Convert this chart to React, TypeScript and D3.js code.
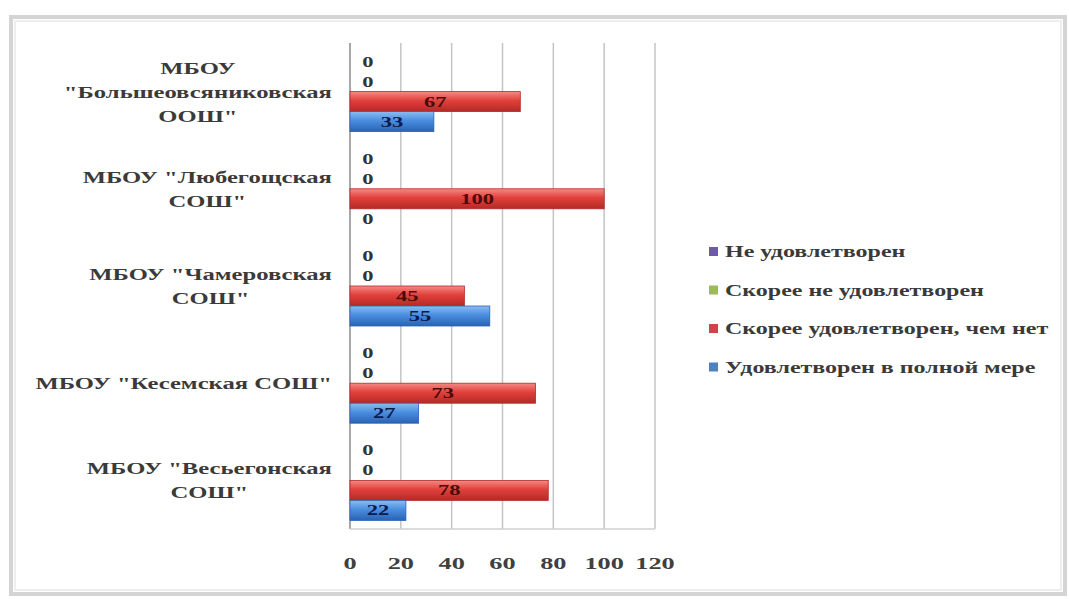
import React, { useEffect, useRef } from "react";
import * as d3 from "d3";

const categories: string[][] = [
  ["МБОУ", "\"Большеовсяниковская", "ООШ\""],
  ["МБОУ \"Любегощская", "СОШ\""],
  ["МБОУ \"Чамеровская", "СОШ\""],
  ["МБОУ \"Кесемская СОШ\""],
  ["МБОУ \"Весьегонская", "СОШ\""],
];

const seriesNames = [
  "Не удовлетворен",
  "Скорее не удовлетворен",
  "Скорее удовлетворен, чем нет",
  "Удовлетворен в полной мере",
];

const notSatisfied = [0, 0, 0, 0, 0];
const ratherNot = [0, 0, 0, 0, 0];
const ratherSatisfied = [67, 100, 45, 73, 78];
const fullySatisfied = [33, 0, 55, 27, 22];

const seriesValues = [notSatisfied, ratherNot, ratherSatisfied, fullySatisfied];
const xTicks = [0, 20, 40, 60, 80, 100, 120];

const seriesColors = [
  { top: "#a08ad0", mid: "#7358b0", bot: "#4e3a86", legend: "#6f5aa8", label: "#1a1030" },
  { top: "#c8dc8a", mid: "#9bbb59", bot: "#6f8a34", legend: "#9bbb59", label: "#1a2a08" },
  { top: "#f48a84", mid: "#e2403a", bot: "#b32a26", legend: "#d0434a", label: "#4a0c0c" },
  { top: "#8cbcf2", mid: "#4a8ee0", bot: "#2a62b4", legend: "#4f81bd", label: "#0c1a4a" },
];

const FONT = "'Liberation Serif', 'DejaVu Serif', serif";

export default function App() {
  const ref = useRef<SVGSVGElement>(null);

  useEffect(() => {
    const svg = d3.select(ref.current);
    svg.selectAll("*").remove();

    const defs = svg.append("defs");
    seriesColors.forEach((c, i) => {
      const g = defs
        .append("linearGradient")
        .attr("id", `grad${i}`)
        .attr("x1", 0)
        .attr("y1", 0)
        .attr("x2", 0)
        .attr("y2", 1);
      g.append("stop").attr("offset", "0%").attr("stop-color", c.top);
      g.append("stop").attr("offset", "45%").attr("stop-color", c.mid);
      g.append("stop").attr("offset", "100%").attr("stop-color", c.bot);
    });

    // outer frame
    svg
      .append("rect")
      .attr("x", 11)
      .attr("y", 17)
      .attr("width", 1054)
      .attr("height", 577)
      .attr("fill", "white")
      .attr("stroke", "#d4d4d4")
      .attr("stroke-width", 4);
    svg
      .append("rect")
      .attr("x", 15)
      .attr("y", 21)
      .attr("width", 1046)
      .attr("height", 569)
      .attr("fill", "none")
      .attr("stroke", "#eeeeee")
      .attr("stroke-width", 2);

    const x = d3.scaleLinear().domain([0, 120]).range([350, 655]);
    const y = d3
      .scaleBand<number>()
      .domain(d3.range(categories.length))
      .range([43, 529])
      .paddingInner(0)
      .paddingOuter(0);
    const inner = d3
      .scaleBand<number>()
      .domain(d3.range(seriesNames.length))
      .range([0, y.bandwidth()])
      .paddingInner(0)
      .paddingOuter(0.43);

    // gridlines
    svg
      .append("g")
      .selectAll("line")
      .data(xTicks)
      .join("line")
      .attr("x1", (d) => x(d))
      .attr("x2", (d) => x(d))
      .attr("y1", 43)
      .attr("y2", 529)
      .attr("stroke", (d) => (d === 0 ? "#a8a8a8" : "#c4c4c4"))
      .attr("stroke-width", (d) => (d === 0 ? 2 : 1.5));
    svg
      .append("line")
      .attr("x1", x(0))
      .attr("x2", x(120))
      .attr("y1", 529)
      .attr("y2", 529)
      .attr("stroke", "#d0d0d0")
      .attr("stroke-width", 1.5);

    // x tick labels
    svg
      .append("g")
      .selectAll("text")
      .data(xTicks)
      .join("text")
      .attr("transform", (d) => `translate(${x(d)},569) scale(1.55,1)`)
      .attr("text-anchor", "middle")
      .attr("font-family", FONT)
      .attr("font-weight", "bold")
      .attr("font-size", 17)
      .attr("fill", "#404040")
      .text((d) => String(d));

    // bars
    seriesValues.forEach((vals, si) => {
      const g = svg.append("g");
      g.selectAll("rect")
        .data(vals)
        .join("rect")
        .attr("x", x(0))
        .attr("y", (_, ci) => (y(ci) as number) + (inner(si) as number))
        .attr("width", (d) => x(d) - x(0))
        .attr("height", inner.bandwidth())
        .attr("fill", `url(#grad${si})`)
        .attr("stroke", seriesColors[si].bot)
        .attr("stroke-width", 0.8);
      g.selectAll("text")
        .data(vals)
        .join("text")
        .attr("transform", (d, ci) => {
          const tx = d === 0 ? x(0) + 18 : (x(0) + x(d)) / 2;
          const ty = (y(ci) as number) + (inner(si) as number) + inner.bandwidth() / 2 + 5;
          return `translate(${tx},${ty}) scale(1.5,1)`;
        })
        .attr("text-anchor", "middle")
        .attr("font-family", FONT)
        .attr("font-weight", "bold")
        .attr("font-size", 15)
        .attr("fill", (d) => (d === 0 ? "#333333" : seriesColors[si].label))
        .text((d) => String(d));
    });

    // category labels
    const lineH = 24;
    const catScale = 1.45;
    categories.forEach((lines, ci) => {
      const cy = (y(ci) as number) + y.bandwidth() / 2;
      const t = svg
        .append("text")
        .attr("font-family", FONT)
        .attr("font-weight", "bold")
        .attr("font-size", 17)
        .attr("fill", "#3a3a3a")
        .attr("text-anchor", "middle");
      const spans = lines.map((l, li) =>
        t
          .append("tspan")
          .attr("x", 0)
          .attr("y", (li - (lines.length - 1) / 2) * lineH + 6)
          .text(l)
      );
      let maxW = 0;
      spans.forEach((s) => {
        const w = (s.node() as SVGTSpanElement).getComputedTextLength();
        if (w > maxW) maxW = w;
      });
      const center = 332 - (maxW * catScale) / 2;
      t.attr("transform", `translate(${center},${cy}) scale(${catScale},1)`);
    });

    // legend
    const legendY0 = 252;
    const legendStep = 38.5;
    seriesNames.forEach((name, si) => {
      const ly = legendY0 + si * legendStep;
      svg
        .append("rect")
        .attr("x", 709)
        .attr("y", ly - 5)
        .attr("width", 9)
        .attr("height", 9)
        .attr("fill", seriesColors[si].legend);
      svg
        .append("text")
        .attr("transform", `translate(725,${ly + 5}) scale(1.5,1)`)
        .attr("font-family", FONT)
        .attr("font-weight", "bold")
        .attr("font-size", 16)
        .attr("fill", "#3a3a3a")
        .text(name);
    });
  }, []);

  return (
    <svg
      ref={ref}
      width={1069}
      height={599}
      style={{ position: "absolute", left: 0, top: 0, background: "white" }}
    />
  );
}
